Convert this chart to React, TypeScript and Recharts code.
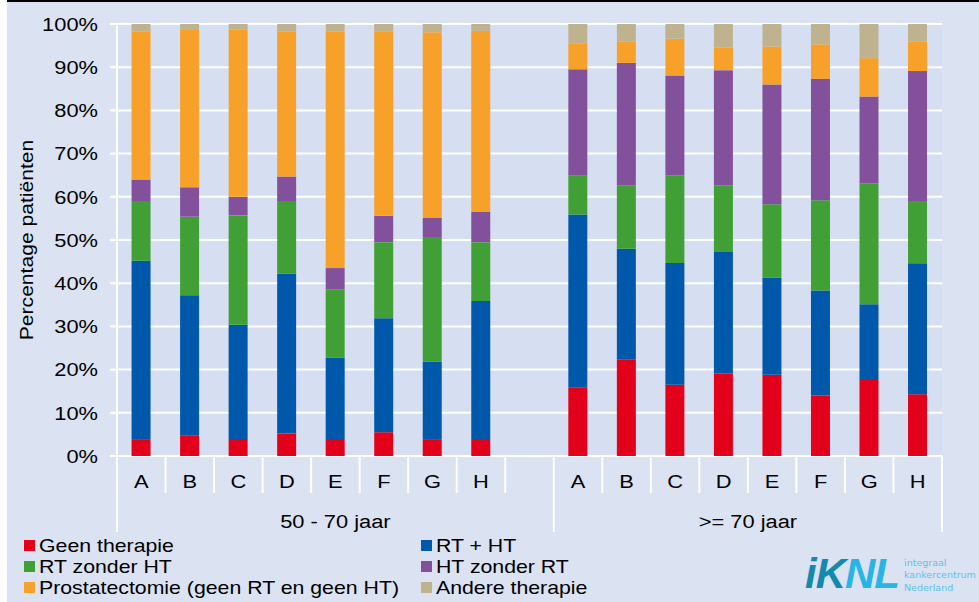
import React from "react";
import { Bar, BarChart, CartesianGrid, Label, XAxis, YAxis } from "recharts";

// categories per age group, with an empty slot between the groups
const categories = ["A", "B", "C", "D", "E", "F", "G", "H", "", "A", "B", "C", "D", "E", "F", "G", "H"];
const groups = ["50 - 70 jaar", ">= 70 jaar"];

const geenTherapie = [3.9, 4.7, 3.7, 5.2, 3.7, 5.5, 3.9, 3.7, null, 15.9, 22.4, 16.5, 19.1, 18.8, 14.0, 17.8, 14.3];
const rtPlusHt = [41.3, 32.5, 26.7, 37.0, 19.1, 26.4, 17.9, 32.2, null, 40.0, 25.6, 28.2, 28.1, 22.5, 24.3, 17.3, 30.3];
const rtZonderHt = [13.8, 18.2, 25.3, 16.8, 15.8, 17.6, 28.7, 13.6, null, 9.1, 14.7, 20.3, 15.4, 17.0, 20.9, 28.0, 14.4];
const htZonderRt = [5.0, 6.8, 4.3, 5.7, 4.9, 6.1, 4.6, 7.0, null, 24.5, 28.3, 23.1, 26.7, 27.7, 28.1, 20.1, 30.1];
const prostatectomie = [34.2, 36.4, 38.8, 33.5, 54.7, 42.7, 43.0, 41.9, null, 5.9, 4.9, 8.5, 5.2, 8.8, 8.0, 8.9, 6.8];
const andereTherapie = [1.8, 1.4, 1.2, 1.8, 1.8, 1.7, 1.9, 1.6, null, 4.6, 4.1, 3.4, 5.5, 5.2, 4.7, 7.9, 4.1];

const yTicks = [0, 10, 20, 30, 40, 50, 60, 70, 80, 90, 100];

const series = [
  { key: "geen", name: "Geen therapie", color: "#e2001a", values: geenTherapie },
  { key: "rtht", name: "RT + HT", color: "#0058ab", values: rtPlusHt },
  { key: "rt", name: "RT zonder HT", color: "#40a035", values: rtZonderHt },
  { key: "ht", name: "HT zonder RT", color: "#83519c", values: htZonderRt },
  { key: "prost", name: "Prostatectomie (geen RT en geen HT)", color: "#f7a12b", values: prostatectomie },
  { key: "andere", name: "Andere therapie", color: "#bfb28e", values: andereTherapie },
];

const data = categories.map((label, i) => {
  const row: Record<string, string | number | null> = { label };
  series.forEach((s) => (row[s.key] = s.values[i]));
  return row;
});

const W = 979;
const H = 602;
const M = { top: 24, right: 37, left: 57, bottom: 0 };
const Y_AXIS_W = 60;
const X_AXIS_H = 146;
const BAND = (W - M.left - Y_AXIS_W - M.right) / categories.length;
const FONT = "'Liberation Sans', Arial, sans-serif";
const FS = 19;
const STRETCH = 1.15; // the labels use a wide sans

// horizontally widened text
const WideText = ({ x, y, anchor = "middle", dy, children }: any) => (
  <text
    transform={`translate(${x} ${y}) scale(${STRETCH} 1)`}
    textAnchor={anchor}
    dy={dy}
    fontSize={FS}
    fontFamily={FONT}
    fill="#000"
  >
    {children}
  </text>
);

// letters, separators and group names under the plot
const CategoryTick = (props: any) => {
  const { x, y, payload, index } = props;
  const left = x - BAND / 2;
  const right = x + BAND / 2;
  const groupStart = index === 0 || index === 9;
  const last = index === categories.length - 1;
  return (
    <g>
      <line x1={left} x2={left} y1={y} y2={y + (groupStart ? 76 : 37)} stroke="#fff" strokeWidth={2} />
      {last && <line x1={right} x2={right} y1={y} y2={y + 76} stroke="#fff" strokeWidth={2} />}
      <WideText x={x} y={y + 32}>{payload.value}</WideText>
      {index === 4 && <WideText x={x} y={y + 72}>{groups[0]}</WideText>}
      {index === 12 && <WideText x={right} y={y + 72}>{groups[1]}</WideText>}
    </g>
  );
};

const PercentTick = (props: any) => {
  const { x, y, payload } = props;
  return (
    <WideText x={x} y={y} anchor="end" dy="0.355em">
      {`${payload.value}%`}
    </WideText>
  );
};

const YTitle = (props: any) => {
  const vb = props.viewBox || { x: M.left, y: M.top, width: Y_AXIS_W, height: 432 };
  const cx = vb.x - 24;
  const cy = vb.y + vb.height / 2;
  return (
    <text
      transform={`translate(${cx} ${cy}) rotate(-90) scale(1.11 1)`}
      textAnchor="middle"
      fontSize={FS}
      fontFamily={FONT}
      fill="#000"
    >
      Percentage patiënten
    </text>
  );
};

const legendCols = [
  [series[0], series[2], series[4]],
  [series[1], series[3], series[5]],
];

const App = () => {
  return (
    <div style={{ position: "absolute", left: 0, top: 0, width: W, height: H, background: "#fff", overflow: "hidden" }}>
      <div
        style={{
          position: "absolute",
          left: 7,
          top: 0,
          width: W - 7,
          height: H,
          background: "#dbe2f1",
          borderTop: "2px solid #000",
        }}
      />
      <div style={{ position: "absolute", left: 0, top: 0 }}>
        <BarChart width={W} height={H} data={data} margin={M} barCategoryGap="30%">
          <CartesianGrid vertical={false} stroke="#fff" strokeWidth={2} fill="#d6dff2" />
          <XAxis
            dataKey="label"
            interval={0}
            axisLine={false}
            tickLine={false}
            tickSize={0}
            tickMargin={0}
            height={X_AXIS_H}
            tick={<CategoryTick />}
          />
          <YAxis
            width={Y_AXIS_W}
            domain={[0, 100]}
            ticks={yTicks}
            axisLine={{ stroke: "#fff", strokeWidth: 2 }}
            tickLine={{ stroke: "#fff", strokeWidth: 2 }}
            tickSize={7}
            tickMargin={12}
            tick={<PercentTick />}
          >
            <Label content={<YTitle />} />
          </YAxis>
          {series.map((s) => (
            <Bar key={s.key} dataKey={s.key} name={s.name} stackId="a" fill={s.color} isAnimationActive={false} />
          ))}
        </BarChart>
      </div>

      {legendCols.map((col, ci) => (
        <div
          key={ci}
          style={{ position: "absolute", left: ci === 0 ? 24 : 421, top: 535, fontFamily: FONT, fontSize: FS }}
        >
          {col.map((s) => (
            <div key={s.key} style={{ display: "flex", alignItems: "center", height: 21, whiteSpace: "nowrap" }}>
              <span style={{ display: "inline-block", width: 11, height: 11, background: s.color, marginRight: 4 }} />
              <span
                style={{
                  color: "#000",
                  display: "inline-block",
                  transform: "scaleX(1.12)",
                  transformOrigin: "left center",
                }}
              >
                {s.name}
              </span>
            </div>
          ))}
        </div>
      ))}

      <div style={{ position: "absolute", left: 805, top: 551, display: "flex", alignItems: "flex-end" }}>
        <span
          style={{
            fontFamily: FONT,
            fontWeight: 700,
            fontStyle: "italic",
            fontSize: 42,
            lineHeight: "46px",
            letterSpacing: -1,
          }}
        >
          <span style={{ color: "#1589ad" }}>iK</span>
          <span style={{ color: "#27b5e6" }}>NL</span>
        </span>
        <span
          style={{
            fontFamily: "'DejaVu Sans', sans-serif",
            fontSize: 9.5,
            lineHeight: "12.5px",
            color: "#5cc2ea",
            marginLeft: 5,
            marginBottom: 3,
            whiteSpace: "nowrap",
          }}
        >
          integraal
          <br />
          kankercentrum
          <br />
          Nederland
        </span>
      </div>
    </div>
  );
};

export default App;
